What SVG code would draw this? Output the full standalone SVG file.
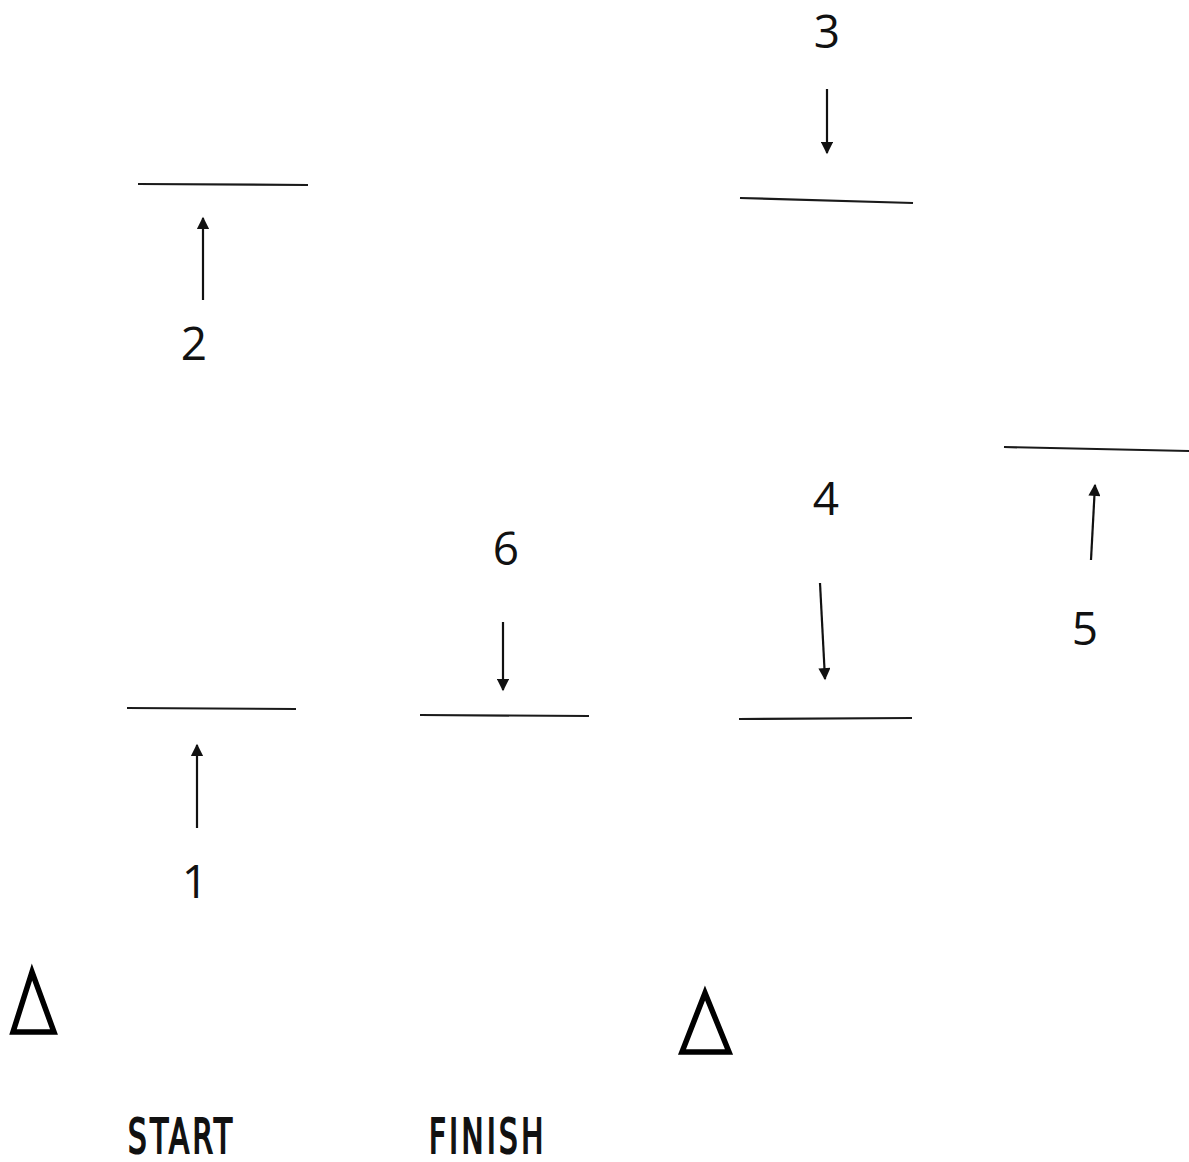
<svg xmlns="http://www.w3.org/2000/svg" width="1189" height="1162" viewBox="0 0 1189 1162">
<style>
.bar{stroke:#1a1a1a;stroke-width:2.2;fill:none}
.arr{stroke:#111;stroke-width:2.2;fill:none;marker-end:url(#ah)}
.num{font-family:"Open Sans","Noto Sans",sans-serif;font-size:46px;fill:#111;text-anchor:middle}
.lbl{font-family:"DejaVu Sans Condensed","DejaVu Sans",sans-serif;font-weight:normal;font-size:48px;fill:#111;stroke:#111;stroke-width:2}
.tri{fill:none;stroke:#000;stroke-width:5.5;stroke-linejoin:miter}
</style>
<defs>
<marker id="ah" viewBox="0 0 10 10" refX="9" refY="5" markerWidth="6.5" markerHeight="5.5" orient="auto" markerUnits="strokeWidth">
<path d="M0,0 L10,5 L0,10 z" fill="#111"/>
</marker>
</defs>
<rect width="1189" height="1162" fill="#fff"/>
<g id="connectors">
<line class="arr" x1="203" y1="300" x2="203" y2="218"/>
<line class="arr" x1="197" y1="828" x2="197" y2="745"/>
<line class="arr" x1="503" y1="622" x2="503" y2="690"/>
<line class="arr" x1="827" y1="89" x2="827" y2="153"/>
<line class="arr" x1="820" y1="583" x2="825" y2="679"/>
<line class="arr" x1="1091" y1="560" x2="1095" y2="485"/>
</g>
<g id="node-2"><line class="bar" x1="138" y1="184" x2="308" y2="185"/><text class="num" x="194" y="360">2</text></g>
<g id="node-1"><line class="bar" x1="127" y1="708" x2="296" y2="709"/><text class="num" x="195" y="898">1</text></g>
<g id="node-6"><line class="bar" x1="420" y1="715" x2="589" y2="716"/><text class="num" x="506" y="565">6</text></g>
<g id="node-3"><line class="bar" x1="740" y1="198" x2="913" y2="203"/><text class="num" x="827" y="48">3</text></g>
<g id="node-4"><line class="bar" x1="739" y1="719" x2="912" y2="718"/><text class="num" x="826" y="515">4</text></g>
<g id="node-5"><line class="bar" x1="1004" y1="447" x2="1189" y2="451"/><text class="num" x="1085" y="645">5</text></g>
<g id="delta-left"><polygon class="tri" points="32,972 13,1032 54,1032"/></g>
<g id="delta-right"><polygon class="tri" points="705,993 682,1052 729,1052"/></g>
<g id="start" transform="translate(128,1153) scale(0.68,1)"><text class="lbl" x="0" y="0" textLength="153" lengthAdjust="spacing">START</text></g>
<g id="finish" transform="translate(429,1153) scale(0.68,1)"><text class="lbl" x="0" y="0" textLength="168" lengthAdjust="spacing">FINISH</text></g>
</svg>
